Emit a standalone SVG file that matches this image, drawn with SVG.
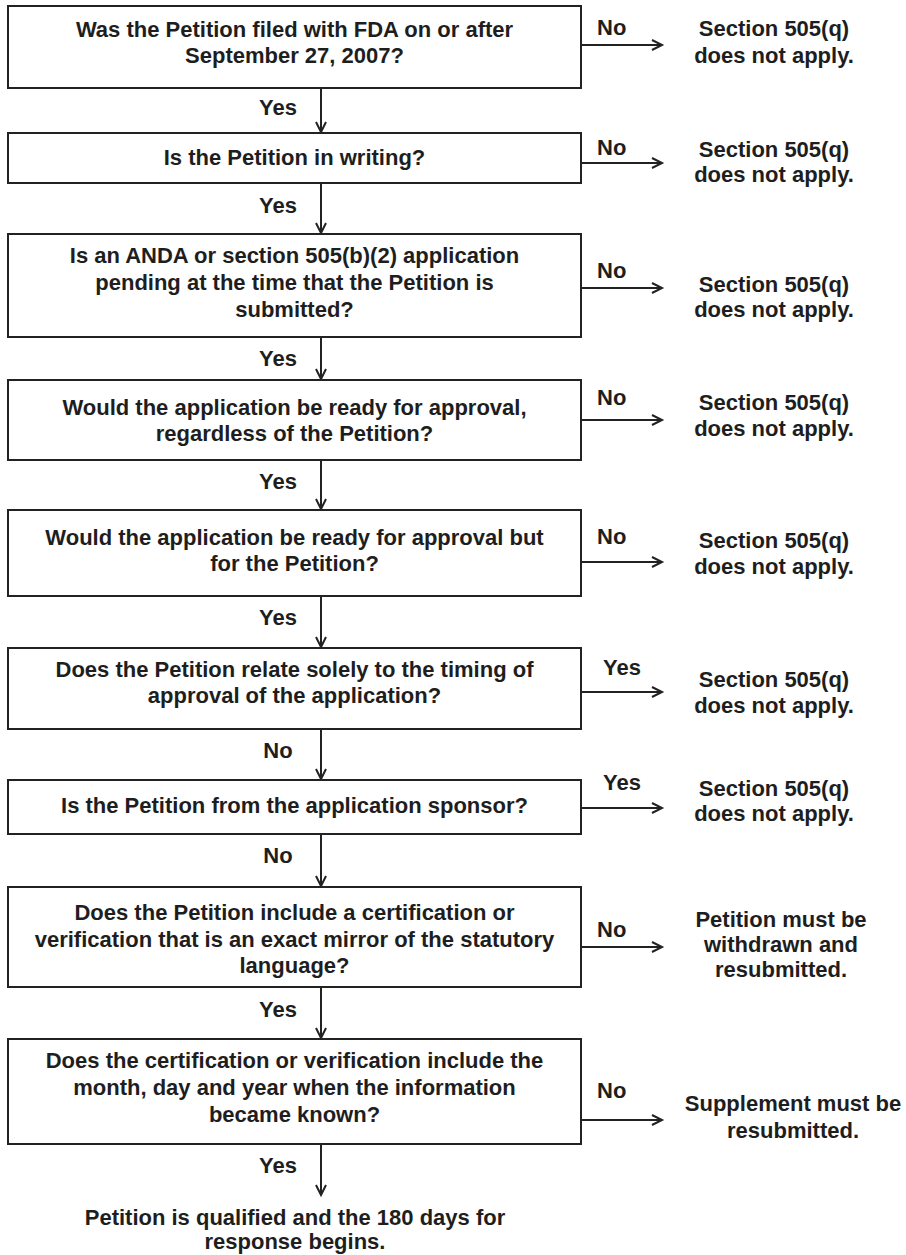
<svg xmlns="http://www.w3.org/2000/svg" width="906" height="1255" viewBox="0 0 906 1255">
<style>
text{font-family:"Liberation Sans",Arial,sans-serif;font-weight:bold;font-size:22px;fill:#1e1e1e}
.c{text-anchor:middle}
.box{fill:#fff;stroke:#222;stroke-width:2}
.ln{stroke:#222;stroke-width:2;fill:none}
</style>
<defs>
<marker id="ah" markerUnits="userSpaceOnUse" markerWidth="14" markerHeight="14" refX="11" refY="6" orient="auto">
<path d="M1,1 L11,6 L1,11" fill="none" stroke="#222" stroke-width="2"/>
</marker>
</defs>
<rect width="906" height="1255" fill="#fff"/>
<g id="connectors">
<line class="ln" x1="321" y1="88" x2="321" y2="132" marker-end="url(#ah)"/>
<line class="ln" x1="321" y1="183" x2="321" y2="233" marker-end="url(#ah)"/>
<line class="ln" x1="321" y1="337" x2="321" y2="379" marker-end="url(#ah)"/>
<line class="ln" x1="321" y1="460" x2="321" y2="509" marker-end="url(#ah)"/>
<line class="ln" x1="321" y1="596" x2="321" y2="647" marker-end="url(#ah)"/>
<line class="ln" x1="321" y1="729" x2="321" y2="779" marker-end="url(#ah)"/>
<line class="ln" x1="321" y1="834" x2="321" y2="886" marker-end="url(#ah)"/>
<line class="ln" x1="321" y1="987" x2="321" y2="1038" marker-end="url(#ah)"/>
<line class="ln" x1="321" y1="1144" x2="321" y2="1195" marker-end="url(#ah)"/>
<line class="ln" x1="581" y1="45" x2="662" y2="45" marker-end="url(#ah)"/>
<line class="ln" x1="581" y1="163" x2="662" y2="163" marker-end="url(#ah)"/>
<line class="ln" x1="581" y1="288" x2="662" y2="288" marker-end="url(#ah)"/>
<line class="ln" x1="581" y1="420" x2="662" y2="420" marker-end="url(#ah)"/>
<line class="ln" x1="581" y1="562" x2="662" y2="562" marker-end="url(#ah)"/>
<line class="ln" x1="581" y1="692" x2="662" y2="692" marker-end="url(#ah)"/>
<line class="ln" x1="581" y1="808" x2="662" y2="808" marker-end="url(#ah)"/>
<line class="ln" x1="581" y1="947" x2="662" y2="947" marker-end="url(#ah)"/>
<line class="ln" x1="581" y1="1120" x2="662" y2="1120" marker-end="url(#ah)"/>
<text class="c" x="278" y="115">Yes</text>
<text class="c" x="278" y="213">Yes</text>
<text class="c" x="278" y="366">Yes</text>
<text class="c" x="278" y="489">Yes</text>
<text class="c" x="278" y="625">Yes</text>
<text class="c" x="278" y="758">No</text>
<text class="c" x="278" y="863">No</text>
<text class="c" x="278" y="1017">Yes</text>
<text class="c" x="278" y="1173">Yes</text>
<text x="597" y="35">No</text>
<text x="597" y="155">No</text>
<text x="597" y="278">No</text>
<text x="597" y="405">No</text>
<text x="597" y="544">No</text>
<text x="603" y="675">Yes</text>
<text x="603" y="790">Yes</text>
<text x="597" y="937">No</text>
<text x="597" y="1098">No</text>
</g>
<g id="q1"><rect class="box" x="8" y="6" width="573" height="82"/>
<text class="c" x="294.5" y="37">Was the Petition filed with FDA on or after</text>
<text class="c" x="294.5" y="63">September 27, 2007?</text></g>
<g id="q2"><rect class="box" x="8" y="133" width="573" height="50"/>
<text class="c" x="294.5" y="165">Is the Petition in writing?</text></g>
<g id="q3"><rect class="box" x="8" y="234" width="573" height="103"/>
<text class="c" x="294.5" y="263">Is an ANDA or section 505(b)(2) application</text>
<text class="c" x="294.5" y="290">pending at the time that the Petition is</text>
<text class="c" x="294.5" y="317">submitted?</text></g>
<g id="q4"><rect class="box" x="8" y="380" width="573" height="80"/>
<text class="c" x="294.5" y="415">Would the application be ready for approval,</text>
<text class="c" x="294.5" y="441">regardless of the Petition?</text></g>
<g id="q5"><rect class="box" x="8" y="510" width="573" height="86"/>
<text class="c" x="294.5" y="545">Would the application be ready for approval but</text>
<text class="c" x="294.5" y="571">for the Petition?</text></g>
<g id="q6"><rect class="box" x="8" y="648" width="573" height="81"/>
<text class="c" x="294.5" y="677">Does the Petition relate solely to the timing of</text>
<text class="c" x="294.5" y="703">approval of the application?</text></g>
<g id="q7"><rect class="box" x="8" y="780" width="573" height="54"/>
<text class="c" x="294.5" y="813">Is the Petition from the application sponsor?</text></g>
<g id="q8"><rect class="box" x="8" y="887" width="573" height="100"/>
<text class="c" x="294.5" y="920">Does the Petition include a certification or</text>
<text class="c" x="294.5" y="947">verification that is an exact mirror of the statutory</text>
<text class="c" x="294.5" y="973">language?</text></g>
<g id="q9"><rect class="box" x="8" y="1039" width="573" height="105"/>
<text class="c" x="294.5" y="1068">Does the certification or verification include the</text>
<text class="c" x="294.5" y="1095">month, day and year when the information</text>
<text class="c" x="294.5" y="1122">became known?</text></g>
<g id="r1"><text class="c" x="774" y="36">Section 505(q)</text><text class="c" x="774" y="63">does not apply.</text></g>
<g id="r2"><text class="c" x="774" y="157">Section 505(q)</text><text class="c" x="774" y="182">does not apply.</text></g>
<g id="r3"><text class="c" x="774" y="292">Section 505(q)</text><text class="c" x="774" y="317">does not apply.</text></g>
<g id="r4"><text class="c" x="774" y="410">Section 505(q)</text><text class="c" x="774" y="436">does not apply.</text></g>
<g id="r5"><text class="c" x="774" y="548">Section 505(q)</text><text class="c" x="774" y="574">does not apply.</text></g>
<g id="r6"><text class="c" x="774" y="687">Section 505(q)</text><text class="c" x="774" y="713">does not apply.</text></g>
<g id="r7"><text class="c" x="774" y="796">Section 505(q)</text><text class="c" x="774" y="821">does not apply.</text></g>
<g id="r8"><text class="c" x="781" y="927">Petition must be</text><text class="c" x="781" y="952">withdrawn and</text><text class="c" x="781" y="977">resubmitted.</text></g>
<g id="r9"><text class="c" x="793" y="1111">Supplement must be</text><text class="c" x="793" y="1138">resubmitted.</text></g>
<g id="end"><text class="c" x="295" y="1225">Petition is qualified and the 180 days for</text>
<text class="c" x="295" y="1249">response begins.</text></g>
</svg>
